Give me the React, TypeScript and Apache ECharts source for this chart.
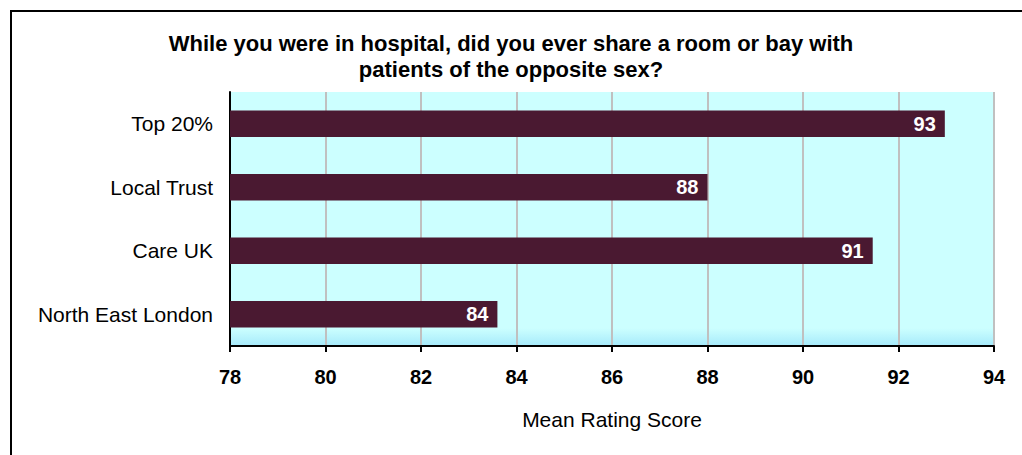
import React, { useEffect, useRef } from "react";
import * as echarts from "echarts";

const categories = ["Top 20%", "Local Trust", "Care UK", "North East London"];
const scores = [92.97, 88.0, 91.46, 83.6];
const titleText = "While you were in hospital, did you ever share a room or bay with\npatients of the opposite sex?";
const axisName = "Mean Rating Score";

const FONT = "'Liberation Sans', Arial, sans-serif";

export default function App() {
  const ref = useRef<HTMLDivElement>(null);
  useEffect(() => {
    if (!ref.current) return;
    const chart = echarts.init(ref.current, undefined, { renderer: "svg" });
    chart.setOption({
      animation: false,
      backgroundColor: "#ffffff",
      title: {
        text: titleText,
        left: "center",
        top: 30,
        padding: 0,
        textStyle: {
          fontFamily: FONT,
          fontSize: 22,
          fontWeight: "bold",
          color: "#000",
          lineHeight: 26,
        },
      },
      graphic: [
        {
          type: "rect",
          shape: { x: 11, y: 11, width: 1030, height: 460 },
          style: { fill: "none", stroke: "#000", lineWidth: 2 },
          silent: true,
          z: 100,
        },
      ],
      grid: {
        left: 230,
        right: 28,
        top: 92,
        bottom: 109,
        show: true,
        borderWidth: 0,
        backgroundColor: new echarts.graphic.LinearGradient(0, 0, 0, 1, [
          { offset: 0, color: "#CCFFFF" },
          { offset: 0.93, color: "#CCFFFF" },
          { offset: 1, color: "#A6EAFB" },
        ]),
      },
      xAxis: {
        type: "value",
        min: 78,
        max: 94,
        interval: 2,
        name: axisName,
        nameLocation: "middle",
        nameGap: 63,
        nameTextStyle: { fontFamily: FONT, fontSize: 21, color: "#000" },
        axisLine: { show: true, lineStyle: { color: "#000", width: 2 } },
        axisTick: { show: true, length: 6, lineStyle: { color: "#000", width: 2 } },
        axisLabel: {
          fontFamily: FONT,
          fontSize: 20,
          fontWeight: "bold",
          color: "#000",
          margin: 21,
        },
        splitLine: { show: true, lineStyle: { color: "#C0C0C0", width: 2 } },
      },
      yAxis: {
        type: "category",
        data: categories,
        inverse: true,
        axisLine: { show: true, lineStyle: { color: "#000", width: 2 } },
        axisTick: { show: false },
        axisLabel: { fontFamily: FONT, fontSize: 21, color: "#000", margin: 17 },
        splitLine: { show: false },
      },
      series: [
        {
          type: "bar",
          data: scores,
          barCategoryGap: "58%",
          itemStyle: { color: "#4A1931" },
          label: {
            show: true,
            position: "insideRight",
            distance: 9,
            formatter: (p: any) => String(Math.round(p.value)),
            fontFamily: FONT,
            fontSize: 20,
            fontWeight: "bold",
            color: "#fff",
          },
        },
      ],
    });
    return () => chart.dispose();
  }, []);
  return (
    <div
      ref={ref}
      style={{ position: "absolute", left: 0, top: 0, width: 1022, height: 455 }}
    />
  );
}
